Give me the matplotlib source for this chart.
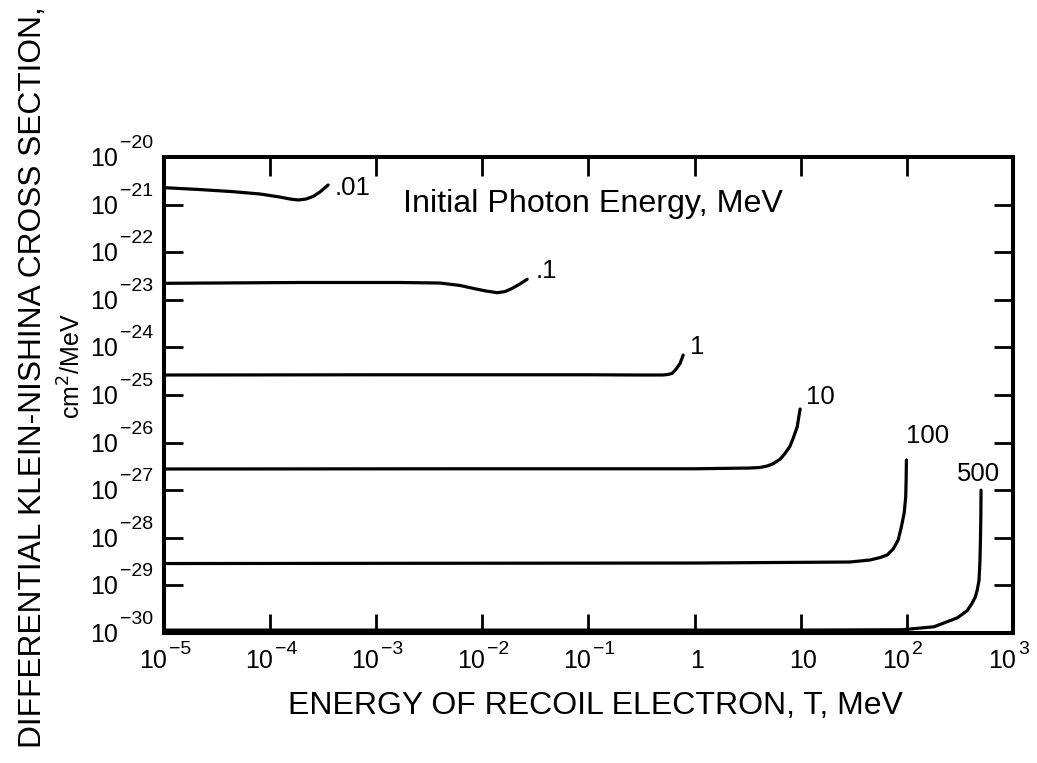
import matplotlib
matplotlib.use("Agg")
import matplotlib.pyplot as plt
from matplotlib.ticker import FixedLocator, NullLocator, NullFormatter

plt.rcParams["font.family"] = ["Liberation Sans", "DejaVu Sans"]

# Differential Klein-Nishina cross section vs recoil electron energy,
# one curve per initial photon energy (MeV).
photon_labels = [".01", ".1", "1", "10", "100", "500"]

T_001 = [1e-5, 2.18e-5, 4.47e-5, 8.03e-5, 1.24e-4, 1.54e-4, 1.83e-4, 2.18e-4, 2.54e-4,
         2.95e-4, 3.52e-4]
S_001 = [2.27e-21, 2.07e-21, 1.87e-21, 1.67e-21, 1.44e-21, 1.31e-21, 1.25e-21, 1.31e-21,
         1.48e-21, 1.84e-21, 2.58e-21]

T_01 = [1e-5, 1.91e-4, 1.67e-3, 3.99e-3, 6.17e-3, 8.17e-3, 1.08e-2, 1.38e-2, 1.64e-2,
        1.91e-2, 2.26e-2, 2.64e-2]
S_01 = [2.22e-23, 2.31e-23, 2.31e-23, 2.25e-23, 2.00e-23, 1.74e-23, 1.53e-23, 1.41e-23,
        1.49e-23, 1.74e-23, 2.15e-23, 2.70e-23]

T_1 = [1e-5, 1e-3, 0.1, 0.3, 0.5, 0.562, 0.614, 0.67, 0.73, 0.78]
S_1 = [2.63e-25, 2.66e-25, 2.66e-25, 2.63e-25, 2.63e-25, 2.70e-25, 2.85e-25, 3.50e-25,
       4.62e-25, 6.92e-25]

T_10 = [1e-5, 1e-2, 1, 3.3, 4.14, 4.82, 5.5, 6.4, 7.1, 7.9, 8.5, 9.25, 9.55, 9.87]
S_10 = [2.79e-27, 2.82e-27, 2.82e-27, 2.92e-27, 3.00e-27, 3.22e-27, 3.60e-27, 4.50e-27,
        5.90e-27, 8.30e-27, 1.25e-26, 2.13e-26, 3.29e-26, 5.08e-26]

T_100 = [1e-5, 1, 29, 45.1, 56, 65.2, 74.3, 82.8, 88.3, 94.3, 97.5, 98.4, 99]
S_100 = [2.88e-29, 2.95e-29, 3.10e-29, 3.42e-29, 3.85e-29, 4.36e-29, 5.82e-29, 9.00e-29,
         1.61e-28, 3.32e-28, 7.20e-28, 1.64e-27, 4.31e-27]

T_500 = [1e-5, 10, 90, 180, 300, 370, 410, 440, 460, 478, 488, 494, 498, 500]
S_500 = [1.15e-30, 1.15e-30, 1.17e-30, 1.35e-30, 2.09e-30, 2.95e-30, 4.17e-30, 5.62e-30,
         7.94e-30, 1.26e-29, 3.16e-29, 1e-28, 3.16e-28, 1e-27]

x_ticks = [1e-5, 1e-4, 1e-3, 1e-2, 1e-1, 1, 10, 1e2, 1e3]
x_tick_bases = ["10", "10", "10", "10", "10", "1", "10", "10", "10"]
x_tick_powers = ["\u22125", "\u22124", "\u22123", "\u22122", "\u22121", "", "", "2", "3"]
y_exponents = list(range(-30, -19))

curves = [(T_001, S_001), (T_01, S_01), (T_1, S_1), (T_10, S_10), (T_100, S_100), (T_500, S_500)]
# label offsets from each curve's end, in points
label_offsets = [(5, -2, "left"), (6, 6, "left"), (5, 6, "left"), (4, 9, "left"),
                 (0, 17, "left"), (-2, 12, "center")]

BASE_FS = 18
POW_FS = 14

fig = plt.figure(figsize=(10.37, 7.63), dpi=100)
ax = fig.add_axes([164 / 1037, 1 - 633 / 763, (1013 - 164) / 1037, (633 - 157) / 763])
ax.set_xscale("log")
ax.set_yscale("log")
ax.set_xlim(1e-5, 1e3)
ax.set_ylim(1e-30, 1e-20)

for (T, S), name, (dx, dy, ha) in zip(curves, photon_labels, label_offsets):
    ax.plot(T, S, color="black", lw=2.3, solid_capstyle="round", solid_joinstyle="round",
            clip_on=False, zorder=3)
    ax.annotate(name, xy=(T[-1], S[-1]), xytext=(dx, dy), textcoords="offset points",
                ha=ha, va="center", fontsize=18.5)

ax.xaxis.set_major_locator(FixedLocator(x_ticks))
ax.xaxis.set_minor_locator(NullLocator())
ax.xaxis.set_major_formatter(NullFormatter())
ax.yaxis.set_major_locator(FixedLocator([10.0 ** e for e in y_exponents]))
ax.yaxis.set_minor_locator(NullLocator())
ax.yaxis.set_major_formatter(NullFormatter())

ax.tick_params(which="major", direction="in", length=14, width=2, top=True, right=True,
               color="black")
for sp in ax.spines.values():
    sp.set_linewidth(2.9)

# power-of-ten tick labels with large exponents
for e in y_exponents:
    ax.annotate("10", xy=(0, 10.0 ** e), xycoords=("axes fraction", "data"),
                xytext=(-74, -9), textcoords="offset pixels", ha="left", va="baseline",
                fontsize=BASE_FS)
    ax.annotate("\u2212%d" % -e, xy=(0, 10.0 ** e), xycoords=("axes fraction", "data"),
                xytext=(-44, 9), textcoords="offset pixels", ha="left", va="baseline",
                fontsize=POW_FS)

for t, b, p in zip(x_ticks, x_tick_bases, x_tick_powers):
    if p:
        ax.annotate(b, xy=(t, 0), xycoords=("data", "axes fraction"),
                    xytext=(3, -35), textcoords="offset pixels", ha="right", va="baseline",
                    fontsize=BASE_FS)
        ax.annotate(p, xy=(t, 0), xycoords=("data", "axes fraction"),
                    xytext=(5, -21), textcoords="offset pixels", ha="left", va="baseline",
                    fontsize=POW_FS)
    else:
        ax.annotate(b, xy=(t, 0), xycoords=("data", "axes fraction"),
                    xytext=(2, -35), textcoords="offset pixels", ha="center", va="baseline",
                    fontsize=BASE_FS)

ax.text(0.505, 0.884, "Initial Photon Energy, MeV", transform=ax.transAxes,
        ha="center", va="baseline", fontsize=23.2)

fig.text(595 / 1037, 1 - 714 / 763, "ENERGY OF RECOIL ELECTRON, T, MeV",
         ha="center", va="baseline", fontsize=23)
fig.text(33 / 1037, 1 - 377 / 763, "DIFFERENTIAL KLEIN-NISHINA CROSS SECTION,",
         rotation=90, ha="center", va="center", fontsize=22.8)
fig.text(72 / 1037, 1 - 366 / 763, r"cm$^2$/MeV",
         rotation=90, ha="center", va="center", fontsize=18)

fig.savefig("out.png", dpi=100, facecolor="white")
